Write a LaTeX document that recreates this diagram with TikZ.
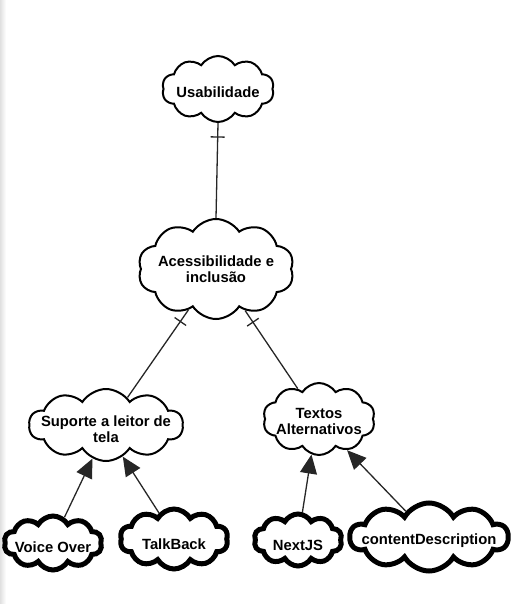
\documentclass[tikz,border=0pt]{standalone}
\usepackage{fontspec}
\setmainfont{Liberation Sans}
\usetikzlibrary{shapes.symbols,arrows.meta,decorations.markings}
\begin{document}
\begin{tikzpicture}[x=1pt,y=-1pt,
  cloudtext/.style={align=center, inner sep=0pt, font=\fontsize{14.8}{16}\selectfont\bfseries},
  cloudbase/.style={shape=cloud, cloud ignores aspect, draw=black, fill=white, inner sep=0pt},
  thincloud/.style={cloudbase, line width=2pt, cloud puffs=10, cloud puff arc=115},
  thickcloud/.style={cloudbase, line width=5pt, cloud puffs=10, cloud puff arc=120},
  link/.style={line width=1.3pt, draw=black!85},
  onelink/.style={link, postaction={decorate},
    decoration={markings, mark=at position 14pt with {\draw[line width=1.3pt] (0,-7pt) -- (0,7pt);}}},
  arrowlink/.style={link, -{Triangle[length=19pt,width=17pt]}}]
\useasboundingbox (0,0) rectangle (513,604);
\shade[left color=black!12, right color=white] (0,0) rectangle (6,604);

\node[thincloud, minimum width=112pt, minimum height=66pt,
  label={[cloudtext, yshift=-3pt]center:Usabilidade}] (usa) at (218,89) {};
\node[thincloud, minimum width=156pt, minimum height=100pt,
  label={[cloudtext]center:Acessibilidade e\\inclusão}] (ace) at (216,269) {};
\node[thincloud, minimum width=154pt, minimum height=72pt,
  label={[cloudtext, yshift=-4pt]center:Suporte a leitor de\\tela}] (sup) at (106,425) {};
\node[thincloud, minimum width=112pt, minimum height=72pt,
  label={[cloudtext, yshift=-2pt]center:Textos\\Alternativos}] (txt) at (319,419) {};
\node[thickcloud, minimum width=98pt, minimum height=54pt,
  label={[cloudtext, yshift=-4pt]center:Voice Over}] (voi) at (53,543) {};
\node[thickcloud, minimum width=108pt, minimum height=60pt,
  label={[cloudtext, yshift=-5pt]center:TalkBack}] (tal) at (174,539) {};
\node[thickcloud, minimum width=88pt, minimum height=52pt,
  label={[cloudtext, yshift=-5pt]center:NextJS}] (nxt) at (298,540) {};
\node[thickcloud, minimum width=158pt, minimum height=68pt,
  label={[cloudtext, yshift=-4pt]center:contentDescription}] (cde) at (429,537) {};

\draw[onelink] (usa.-90) -- (ace.90);
\draw[onelink] (ace.-124) -- (sup.52);
\draw[onelink] (ace.-55) -- (txt.125);

\draw[arrowlink] (voi.66) -- (sup.-112);
\draw[arrowlink] (tal.120) -- (sup.-62);
\draw[arrowlink] (nxt.81) -- (txt.-102);
\draw[arrowlink] (cde.132) -- (txt.-48);
\end{tikzpicture}
\end{document}
